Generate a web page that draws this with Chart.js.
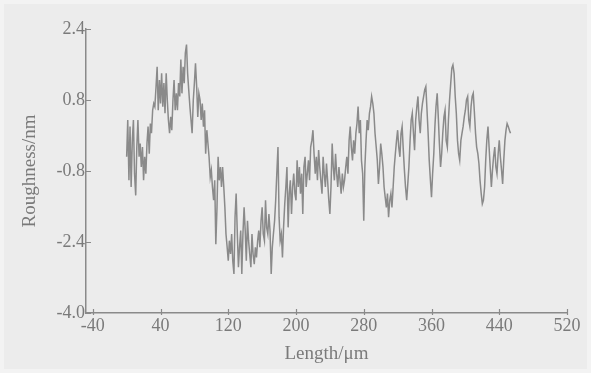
<!DOCTYPE html>
<html>
<head>
<meta charset="utf-8">
<script src="https://cdn.jsdelivr.net/npm/chart.js@4/dist/chart.umd.min.js"></script>
<style>
html,body{margin:0;padding:0;background:#f3f3f3;}
#wrap{position:absolute;left:0;top:0;width:591px;height:373px;}
</style>
</head>
<body>
<div id="wrap"><canvas id="c" width="591" height="373"></canvas></div>
<script>
const xTicks = [-40, 40, 120, 200, 280, 360, 440, 520];
const yTicks = [-4.0, -2.4, -0.8, 0.8, 2.4];

const lengths = [
0,1.3,2.7,4,5.3,6.7,8,9.3,10.7,12,13.3,14.7,16,17.3,18.7,20,21.3,22.7,24,25.3,26.7,28,29.3,30.7,32,33.3,34.7,36,37.3,38.7,
40,41.3,42.7,44,45.3,46.7,48,49.3,50.7,52,53.3,54.7,56,57.3,58.7,60,61.3,62.7,64,65.3,66.7,68,69.3,70.7,72,73.3,74.7,76,77.3,78.7,
80,81.3,82.7,84,85.3,86.7,88,89.3,90.7,92,93.3,94.7,96,97.3,98.7,100,101.3,102.7,104,105.3,106.7,108,109.3,110.7,112,113.3,114.7,116,117.3,118.7,
120,121.3,122.7,124,125.3,126.7,128,129.3,130.7,132,133.3,134.7,136,137.3,138.7,140,141.3,142.7,144,145.3,146.7,148,149.3,150.7,152,153.3,154.7,156,157.3,158.7,
160,161.3,162.7,164,165.3,166.7,168,169.3,170.7,172,173.3,174.7,176,177.3,178.7,180,181.3,182.7,184,185.3,186.7,188,189.3,190.7,192,193.3,194.7,196,197.3,198.7,
200,201.3,202.7,204,205.3,206.7,208,209.3,210.7,212,213.3,214.7,216,217.3,218.7,220,221.3,222.7,224,225.3,226.7,228,229.3,230.7,232,233.3,234.7,236,237.3,238.7,
240,241.3,242.7,244,245.3,246.7,248,249.3,250.7,252,253.3,254.7,256,257.3,258.7,260,261.3,262.7,264,265.3,266.7,268,269.3,270.7,272,273.3,274.7,276,277.3,278.7,
280,281.3,282.7,284,285.3,286.7,288,289.3,290.7,292,293.3,294.7,296,297.3,298.7,300,301.3,302.7,304,305.3,306.7,308,309.3,310.7,312,313.3,314.7,316,317.3,318.7,
320,321.3,322.7,324,325.3,326.7,328,329.3,330.7,332,333.3,334.7,336,337.3,338.7,340,341.3,342.7,344,345.3,346.7,348,349.3,350.7,352,353.3,354.7,356,357.3,358.7,
360,361.3,362.7,364,365.3,366.7,368,369.3,370.7,372,373.3,374.7,376,377.3,378.7,380,381.3,382.7,384,385.3,386.7,388,389.3,390.7,392,393.3,394.7,396,397.3,398.7,
400,401.3,402.7,404,405.3,406.7,408,409.3,410.7,412,413.3,414.7,416,417.3,418.7,420,421.3,422.7,424,425.3,426.7,428,429.3,430.7,432,433.3,434.7,436,437.3,438.7,
440,441.3,442.7,444,445.3,446.7,448,449.3,450.7,452,453.3
];

const roughness = [
-0.48,0.35,-1.01,0.20,-1.16,-0.11,0.35,-0.86,-1.35,-0.26,0.35,-0.48,-0.18,-0.71,-0.26,-1.01,-0.48,-0.86,-0.18,0.20,-0.41,0.27,0.05,0.57,0.72,0.65,1.10,1.55,0.57,1.25,
0.72,1.40,0.65,1.18,0.50,1.40,0.80,0.35,0.05,0.42,0.12,0.80,1.25,0.57,0.95,0.57,1.18,0.88,1.71,0.95,1.55,1.18,1.86,2.05,1.40,1.03,0.65,0.35,0.05,0.80,
1.18,1.63,1.10,0.42,0.95,0.80,0.35,0.72,0.20,0.57,-0.41,0.12,-0.18,-0.48,-0.94,-0.78,-1.16,-1.46,-1.01,-2.45,-1.62,-0.48,-1.01,-0.71,-1.16,-0.71,-1.16,-1.62,-2.22,-2.52,
-2.82,-2.37,-2.67,-2.22,-2.82,-3.12,-1.84,-1.31,-2.22,-2.97,-2.52,-2.14,-3.12,-2.22,-1.62,-2.14,-2.82,-1.92,-2.37,-2.67,-2.97,-2.22,-2.67,-2.90,-2.52,-2.75,-2.37,-2.14,-2.52,-1.92,
-1.62,-2.22,-2.37,-1.46,-2.07,-2.22,-1.77,-2.14,-3.12,-2.52,-2.22,-1.92,-1.46,-0.86,-0.26,-1.84,-2.37,-2.22,-2.75,-2.07,-1.54,-1.16,-0.71,-2.07,-1.31,-1.01,-1.77,-1.16,-0.86,-1.31,
-1.46,-0.56,-1.16,-0.71,-1.31,-0.86,-1.77,-0.71,-0.48,-1.16,-0.86,-0.56,-1.01,-0.26,-0.11,0.12,-0.41,-0.86,-0.48,-1.01,-0.33,-0.71,-1.01,-1.31,-0.48,-0.86,-1.16,-0.63,-1.01,-1.46,
-1.77,-1.16,-0.18,-0.71,-1.01,-0.41,-0.86,-1.16,-0.71,-1.01,-1.31,-0.86,-1.16,-1.01,-0.71,-0.48,-0.86,-0.11,0.20,-0.26,-0.56,-0.11,-0.41,0.05,0.27,0.65,0.05,0.35,-0.56,-0.86,
-1.92,-0.71,-0.11,0.35,0.12,0.50,0.65,0.88,0.72,0.50,0.05,-0.26,-0.56,-1.09,-0.71,-0.18,-0.41,-0.71,-1.16,-1.39,-1.62,-1.31,-1.84,-1.46,-1.31,-1.62,-1.16,-0.71,-0.41,-0.11,
0.12,-0.26,-0.48,0.05,0.20,-0.33,-0.78,-1.16,-1.46,-1.09,-0.71,-0.11,0.35,0.50,0.05,-0.33,0.35,0.65,0.88,0.35,0.05,0.50,0.72,0.88,1.03,1.10,0.57,0.05,-0.56,-1.01,
-1.39,-0.86,-0.41,0.20,0.65,0.95,0.42,-0.18,-0.71,-0.41,0.05,0.42,0.57,-0.11,-0.26,0.35,0.80,1.18,1.52,1.59,1.40,0.88,0.50,-0.11,-0.41,-0.56,-0.11,0.05,0.20,0.42,
0.57,0.80,0.88,0.35,0.20,0.65,0.88,0.95,0.50,0.05,-0.26,-0.41,-0.63,-1.01,-1.31,-1.54,-1.46,-1.16,-0.56,-0.11,0.20,-0.26,-0.71,-1.16,-0.78,-0.48,-0.26,-0.71,-0.86,-0.41,
-0.11,-0.48,-0.78,-1.09,-0.56,-0.11,0.12,0.27,0.20,0.12,0.05
];

const points = lengths.map((x, i) => ({x: x, y: roughness[i]}));

const bgPlugin = {
  id: 'bg',
  beforeDraw(chart) {
    const ctx = chart.ctx;
    ctx.save();
    ctx.fillStyle = '#ececec';
    ctx.fillRect(4, 4, chart.width - 8, chart.height - 8);
    ctx.restore();
  }
};

const tickPlugin = {
  id: 'innerTicks',
  afterDraw(chart) {
    const ctx = chart.ctx;
    const xs = chart.scales.x, ys = chart.scales.y;
    ctx.save();
    ctx.strokeStyle = '#8a8a8a';
    ctx.lineWidth = 1.2;
    ctx.beginPath();
    xTicks.forEach(v => {
      const px = Math.round(xs.getPixelForValue(v)) + 0.5;
      ctx.moveTo(px, ys.bottom + 2);
      ctx.lineTo(px, ys.bottom - 4);
    });
    yTicks.forEach(v => {
      const py = Math.round(ys.getPixelForValue(v)) + 0.5;
      ctx.moveTo(xs.left - 1, py);
      ctx.lineTo(xs.left + 5, py);
    });
    ctx.stroke();
    ctx.restore();
  }
};

const serif = "'Liberation Serif','DejaVu Serif',serif";

new Chart(document.getElementById('c'), {
  type: 'line',
  data: {
    datasets: [{
      data: points,
      borderColor: '#8a8a8a',
      borderWidth: 1.5,
      pointRadius: 0,
      tension: 0,
      fill: false
    }]
  },
  options: {
    responsive: false,
    animation: false,
    events: [],
    layout: {padding: {top: 29, right: 24, left: 0, bottom: 0}},
    plugins: {legend: {display: false}, tooltip: {enabled: false}},
    scales: {
      x: {
        type: 'linear',
        min: -48,
        max: 520,
        afterBuildTicks: s => { s.ticks = xTicks.map(v => ({value: v})); },
        afterFit: s => { s.height = 60; },
        grid: {display: true, drawOnChartArea: false, drawTicks: false},
        border: {display: true, color: '#8a8a8a', width: 1.5},
        ticks: {
          color: '#7a7a7a',
          font: {family: serif, size: 18},
          padding: 2,
          maxRotation: 0,
          callback: v => String(v)
        },
        title: {
          display: true,
          text: 'Length/\u03bcm',
          color: '#7a7a7a',
          font: {family: serif, size: 19},
          padding: {top: 0, bottom: 8}
        }
      },
      y: {
        type: 'linear',
        min: -4.0,
        max: 2.4,
        afterBuildTicks: s => { s.ticks = yTicks.map(v => ({value: v})); },
        afterFit: s => { s.width = 86; },
        grid: {display: true, drawOnChartArea: false, drawTicks: false},
        border: {display: true, color: '#8a8a8a', width: 1.5},
        ticks: {
          color: '#7a7a7a',
          font: {family: serif, size: 18},
          padding: 1,
          callback: v => Number(v).toFixed(1)
        },
        title: {
          display: true,
          text: 'Roughness/nm',
          color: '#7a7a7a',
          font: {family: serif, size: 19},
          padding: {top: 19, bottom: 0}
        }
      }
    }
  },
  plugins: [bgPlugin, tickPlugin]
});
</script>
</body>
</html>
